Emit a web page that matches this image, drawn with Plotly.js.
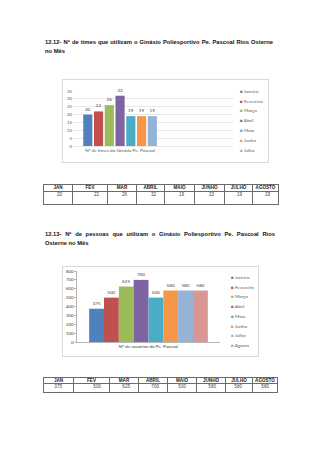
<!DOCTYPE html>
<html>
<head>
<meta charset="utf-8">
<script src="https://cdn.plot.ly/plotly-3.0.1.min.js"></script>
<style>
  html, body { margin:0; padding:0; background:#fff; width:320px; height:453px; overflow:hidden; }
  .abs { position:absolute; }
  .title { font-family:"Liberation Sans", Arial, sans-serif; font-weight:bold; font-size:5.8px; color:#111; line-height:8.5px; }
  .just { text-align:justify; text-align-last:justify; }
  .frame { border:1px solid #D9D9D9; box-sizing:border-box; }
  table.dt { border-collapse:collapse; table-layout:fixed; font-family:"Liberation Sans", Arial, sans-serif; font-size:4.6px; color:#222; }
  table.dt td { border:0.6px solid #6a6a6a; padding:0; overflow:hidden; white-space:nowrap; }
  table.dt tr.h td { font-weight:bold; text-align:center; }
  table.dt tr.v td { text-align:right; vertical-align:top; color:#444; }
</style>
</head>
<body>
<script>
// ---------- DATA ----------
var seriesNames1 = ["Janeiro","Fevereiro","Março","Abril","Maio","Junho","Julho"];
var teamsValues  = [20, 22, 26, 32, 19, 19, 19];
var category1    = "Nº de times do Ginásio Pe. Pascoal";

var seriesNames2 = ["Janeiro","Fevereiro","Março","Abril","Maio","Junho","Julho","Agosto"];
var usersValues  = [375, 500, 625, 700, 500, 580, 580, 580];
var category2    = "Nº de usuários do Pe. Pascoal";

var tableHeaders = ["JAN","FEV","MAR","ABRIL","MAIO","JUNHO","JULHO","AGOSTO"];
var tableTeams   = [20, 22, 26, 32, 19, 23, 19, 19];
var tableUsers   = [375, 500, 625, 700, 500, 580, 580, 580];

var palette = ["#4F81BD","#C0504D","#9BBB59","#8064A2","#4BACC6","#F79646","#95B3D7","#D99694"];
</script>

<div class="abs title" style="left:45px;top:38px;width:228px;">
  <div class="just">12.12- Nº de times que utilizam o Ginásio Poliesportivo Pe. Pascoal Rios Osterne</div>
  <div>no Mês</div>
</div>
<div class="abs frame" style="left:62px;top:79px;width:207px;height:84px;"></div>
<div id="c1" class="abs" style="left:62px;top:79px;width:206px;height:83px;"></div>
<div id="t1" class="abs" style="left:43px;top:184px;"></div>

<div class="abs title" style="left:45px;top:230px;width:230px;">
  <div class="just">12.13- Nº de pessoas que utilizam o Ginásio Poliesportivo Pe. Pascoal Rios</div>
  <div>Osterne no Mês</div>
</div>
<div class="abs frame" style="left:62px;top:266px;width:197px;height:91px;"></div>
<div id="c2" class="abs" style="left:62px;top:266px;width:196px;height:90px;"></div>
<div id="t2" class="abs" style="left:43px;top:377px;"></div>

<script>
var FONT = "Lato, 'Liberation Sans', Arial, sans-serif";

function makeTraces(names, values, cat) {
  return names.map(function(n, i) {
    return {
      type: "bar", name: n, x: [cat], y: [values[i]],
      marker: { color: palette[i] },
      text: [String(values[i])], textposition: "outside", cliponaxis: false,
      textfont: { size: 4.6, color: "#404040", family: FONT },
      hoverinfo: "none"
    };
  });
}
function legendAnn(names, x0, y0, step) {
  return names.map(function(n, i) {
    return {
      xref: "paper", yref: "paper", x: x0, y: y0 - i * step,
      xanchor: "left", yanchor: "middle", showarrow: false,
      text: '<span style="color:' + palette[i] + '">■</span> ' + n,
      font: { size: 4.6, color: "#595959", family: FONT }
    };
  });
}

// Chart 1: plot area px x 73..233, y 91..146
var l1 = {
  width: 206, height: 83,
  margin: { l: 11, r: 35, t: 12, b: 16, pad: 0 },
  paper_bgcolor: "rgba(0,0,0,0)", plot_bgcolor: "rgba(0,0,0,0)",
  showlegend: false, barmode: "group", bargap: 0.2, bargroupgap: 0.15,
  font: { family: FONT, color: "#595959", size: 4.6 },
  xaxis: { type: "category", range: [-0.5, 1.2], showline: false, ticks: "", showgrid: false,
           tickfont: { size: 4.6, color: "#595959" }, fixedrange: true },
  yaxis: { range: [0, 35], dtick: 5, showgrid: true, gridcolor: "#D9D9D9", gridwidth: 0.6,
           zeroline: true, zerolinecolor: "#D9D9D9", zerolinewidth: 0.6, showline: false, ticks: "",
           tickfont: { size: 4.3, color: "#595959" }, fixedrange: true },
  annotations: legendAnn(seriesNames1, (238 - 73) / 160, 1, 9.75 / 55)
};
Plotly.newPlot("c1", makeTraces(seriesNames1, teamsValues, category1), l1, { staticPlot: true, displayModeBar: false });

// Chart 2: plot area px x 77..220, y 271..342
var l2 = {
  width: 196, height: 90,
  margin: { l: 15, r: 38, t: 5, b: 14, pad: 0 },
  paper_bgcolor: "rgba(0,0,0,0)", plot_bgcolor: "rgba(0,0,0,0)",
  showlegend: false, barmode: "group", bargap: 0.17, bargroupgap: 0,
  font: { family: FONT, color: "#404040", size: 4.6 },
  xaxis: { type: "category", showline: true, linecolor: "#868686", linewidth: 0.6, ticks: "", showgrid: false,
           tickfont: { size: 4.6, color: "#404040" }, fixedrange: true },
  yaxis: { range: [0, 800], dtick: 100, showgrid: false, zeroline: false, showline: true,
           linecolor: "#868686", linewidth: 0.6, ticks: "outside", ticklen: 2, tickcolor: "#868686", tickwidth: 0.6,
           tickfont: { size: 4.3, color: "#404040" }, fixedrange: true },
  annotations: legendAnn(seriesNames2, (229 - 77) / 143, 1 - 6 / 71, 9.7 / 71)
};
Plotly.newPlot("c2", makeTraces(seriesNames2, usersValues, category2), l2, { staticPlot: true, displayModeBar: false });

// Tables
function makeTable(id, headers, values, widths, hRow, vRow, padR) {
  var h = '<table class="dt"><colgroup>';
  widths.forEach(function(w) { h += '<col style="width:' + w + 'px">'; });
  h += '</colgroup><tr class="h" style="height:' + hRow + 'px;line-height:' + hRow + 'px">';
  headers.forEach(function(t) { h += '<td>' + t + '</td>'; });
  h += '</tr><tr class="v" style="height:' + vRow + 'px;line-height:6px">';
  values.forEach(function(v, i) { h += '<td style="padding-right:' + padR[i] + 'px">' + v + '</td>'; });
  h += '</tr></table>';
  document.getElementById(id).innerHTML = h;
}
makeTable("t1", tableHeaders, tableTeams, [29, 35, 29, 28, 30, 30, 28, 26], 6, 13, [10, 8, 9, 8, 10, 10, 10, 8]);
makeTable("t2", tableHeaders, tableUsers, [30, 36, 29, 29, 29, 29, 27, 25], 5, 9, [11, 8, 8, 8, 10, 9, 10, 8]);
</script>
</body>
</html>
